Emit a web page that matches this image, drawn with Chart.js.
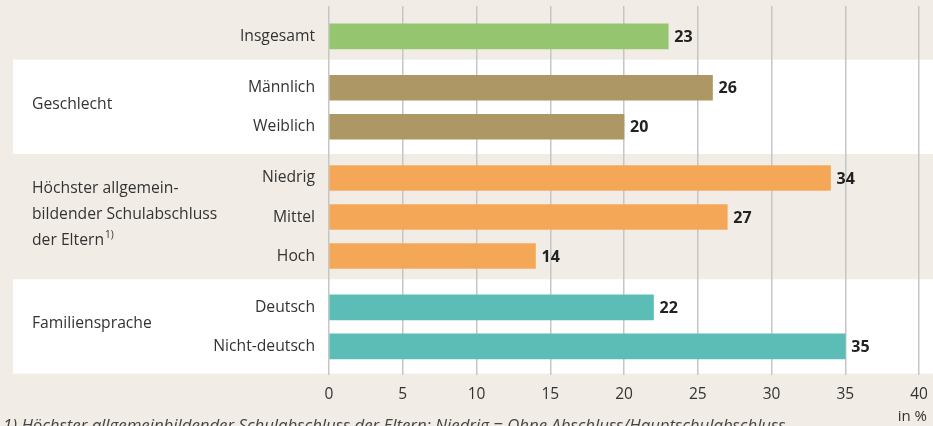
<!DOCTYPE html>
<html>
<head>
<meta charset="utf-8">
<script src="https://cdn.jsdelivr.net/npm/chart.js@4/dist/chart.umd.min.js"></script>
<style>
  html, body { margin: 0; padding: 0; background: #f1ede6; }
  #wrap { width: 933px; height: 426px; }
</style>
</head>
<body>
<div id="wrap"><canvas id="chart"></canvas></div>
<script>
// Daten
const rowLabels = ['Insgesamt', 'Männlich', 'Weiblich', 'Niedrig', 'Mittel', 'Hoch', 'Deutsch', 'Nicht-deutsch'];
const rowValues = [23, 26, 20, 34, 27, 14, 22, 35];
const rowGroup = [0, 1, 1, 2, 2, 2, 3, 3];
const groupLabels = [[], ['Geschlecht'], ['Höchster allgemein-', 'bildender Schulabschluss', 'der Eltern'], ['Familiensprache']];
const groupColors = ['#95c56f', '#ad9764', '#f4a757', '#5bbdb6'];
const whiteGroups = [1, 3];
const xTicks = [0, 5, 10, 15, 20, 25, 30, 35, 40];

const FONT = '"Open Sans", sans-serif';
const LABEL_SIZE = 15.7;
const GAP = 0.315;

// Position jeder Zeile auf der y-Achse (Zeilenindex + Abstand zwischen Gruppen)
const rowPos = rowLabels.map((_, i) => i + rowGroup[i] * GAP);

// Hintergrund und weiße Bänder
const bandPlugin = {
    id: 'bands',
    beforeDraw(chart) {
        const { ctx, chartArea, scales } = chart;
        ctx.save();
        ctx.fillStyle = '#f1ede6';
        ctx.fillRect(0, 0, chart.width, chart.height);
        ctx.fillStyle = '#ffffff';
        whiteGroups.forEach(g => {
            const pos = rowPos.filter((_, i) => rowGroup[i] === g);
            const top = scales.y.getPixelForValue(Math.min(...pos) - 0.72);
            const bottom = Math.min(chartArea.bottom, scales.y.getPixelForValue(Math.max(...pos) + 0.7));
            ctx.fillRect(13, top, chart.width - 13, bottom - top);
        });
        ctx.restore();
    }
};

// Gruppenbeschriftung, Werte, Fußnote
const textPlugin = {
    id: 'texts',
    afterDatasetsDraw(chart) {
        const { ctx, scales } = chart;
        const meta = chart.getDatasetMeta(0);
        ctx.save();
        ctx.font = 'bold 16px ' + FONT;
        ctx.fillStyle = '#222';
        ctx.textBaseline = 'middle';
        ctx.textAlign = 'left';
        meta.data.forEach((bar, i) => {
            ctx.fillText(rowValues[i], bar.x + 6, bar.y + 1);
        });

        ctx.font = LABEL_SIZE + 'px ' + FONT;
        ctx.fillStyle = '#333';
        groupLabels.forEach((lines, g) => {
            if (!lines.length) return;
            const pos = rowPos.filter((_, i) => rowGroup[i] === g);
            const center = scales.y.getPixelForValue((Math.min(...pos) + Math.max(...pos)) / 2) - 3;
            const lh = 26;
            lines.forEach((line, k) => {
                const y = center + (k - (lines.length - 1) / 2) * lh;
                ctx.fillText(line, 32, y);
                if (g === 2 && k === lines.length - 1) {
                    const w = ctx.measureText(line).width;
                    ctx.font = '10px ' + FONT;
                    ctx.fillText('1)', 32 + w + 1, y - 5);
                    ctx.font = LABEL_SIZE + 'px ' + FONT;
                }
            });
        });

        ctx.font = '15px ' + FONT;
        ctx.textAlign = 'right';
        ctx.fillText('in %', 927, 417);

        ctx.textAlign = 'left';
        ctx.textBaseline = 'alphabetic';
        ctx.font = 'italic 16.8px ' + FONT;
        ctx.fillStyle = '#444';
        ctx.fillText('1) Höchster allgemeinbildender Schulabschluss der Eltern: Niedrig = Ohne Abschluss/Hauptschulabschluss', 3, 431);
        ctx.restore();
    }
};

new Chart(document.getElementById('chart'), {
    type: 'bar',
    data: {
        datasets: [{
            data: rowValues.map((v, i) => ({ x: v, y: rowPos[i] })),
            backgroundColor: rowGroup.map(g => groupColors[g]),
            barThickness: 25,
            borderWidth: 0
        }]
    },
    options: {
        indexAxis: 'y',
        responsive: true,
        maintainAspectRatio: false,
        animation: false,
        layout: { padding: { top: 6, right: 14, left: 0, bottom: 0 } },
        plugins: { legend: { display: false }, tooltip: { enabled: false } },
        scales: {
            x: {
                type: 'linear',
                min: 0,
                max: 40,
                offset: false,
                afterBuildTicks: scale => { scale.ticks = xTicks.map(v => ({ value: v })); },
                afterFit: scale => { scale.height = 51; scale.paddingLeft = 0; scale.paddingRight = 0; },
                grid: { color: '#c6c6c6', lineWidth: 1.5, drawTicks: false, offset: false },
                border: { display: false },
                ticks: { padding: 10, color: '#333', font: { family: FONT, size: 15.5 } }
            },
            y: {
                type: 'linear',
                reverse: true,
                min: -0.78,
                max: 8.68,
                offset: false,
                afterBuildTicks: scale => { scale.ticks = rowPos.map(v => ({ value: v })); },
                afterFit: scale => { scale.width = 329; scale.paddingTop = 0; scale.paddingBottom = 0; },
                grid: { display: false, drawTicks: false, offset: false },
                border: { display: false },
                ticks: {
                    padding: 14,
                    color: '#333',
                    font: { family: FONT, size: LABEL_SIZE },
                    callback: (value, index) => rowLabels[index]
                }
            }
        }
    },
    plugins: [bandPlugin, textPlugin]
});
</script>
</body>
</html>
